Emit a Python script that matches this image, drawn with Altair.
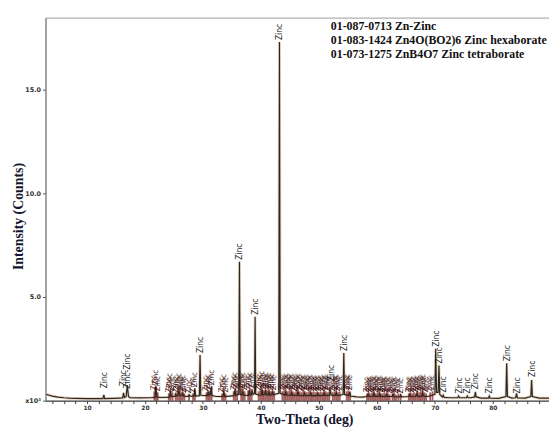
import altair as alt
import pandas as pd

# ---- measured XRD pattern (2-theta in deg, intensity in 10^3 counts) ----
two_theta = [3.0, 3.5, 4.0, 5.0, 6.0, 7.0, 8.0, 10.0, 12.0,
             12.75, 12.9, 13.05, 14.5, 15.5,
             16.15, 16.3, 16.45, 16.75, 16.95, 17.15, 17.4,
             19.0, 21.0, 21.75, 21.9, 22.05, 23.0,
             24.25, 24.4, 24.55, 25.15, 25.3, 25.45, 25.7, 25.85, 26.0, 26.35, 26.5, 26.65, 27.45, 27.6, 27.75,
             28.45, 28.6, 28.75, 29.38, 29.5, 29.62,
             30.75, 30.9, 31.05, 31.25, 31.4, 31.55, 32.3,
             33.45, 33.6, 33.75, 34.6, 35.35, 35.5, 35.65,
             36.18, 36.3, 36.42, 36.7, 36.85, 37.0,
             37.85, 38.0, 38.15, 38.35, 38.5, 38.65, 38.9, 39.0, 39.1,
             39.8, 40.05, 40.2, 40.35, 40.65, 40.8, 40.95, 41.25, 41.4, 41.55, 41.85, 42.0, 42.15,
             43.08, 43.2, 43.32,
             44.15, 44.3, 44.45, 45.15, 45.3, 45.45, 46.25, 46.4, 46.55, 47.35, 47.5, 47.65,
             48.45, 48.6, 48.75, 49.65, 49.8, 49.95, 50.75, 50.9, 51.05, 51.85, 52.0, 52.15,
             52.85, 53.0, 53.15, 53.7,
             54.18, 54.3, 54.42, 55.15, 55.3, 55.45, 56.5, 57.5,
             58.35, 58.5, 58.65, 59.35, 59.5, 59.65, 60.35, 60.5, 60.65, 61.55, 61.7, 61.85,
             62.65, 62.8, 62.95, 63.95, 64.1, 64.25, 65.55, 65.7, 65.85, 66.75, 66.9, 67.05,
             67.75, 67.9, 68.05, 68.8,
             70.02, 70.15, 70.3, 70.58, 70.72, 70.86, 71.3, 71.45, 71.6, 72.5,
             73.95, 74.1, 74.25, 75.45, 75.6, 75.75, 76.2, 76.87, 77.0, 77.13, 78.0,
             79.25, 79.4, 79.55, 81.0,
             82.27, 82.4, 82.53, 83.3, 83.95, 84.1, 84.25, 85.6, 86.57, 86.7, 86.83, 88.0, 89.7]
counts = [0.30, 0.26, 0.22, 0.17, 0.14, 0.12, 0.11, 0.10, 0.10,
          0.10, 0.28, 0.10, 0.11, 0.12,
          0.13, 0.38, 0.15, 0.20, 0.75, 0.20, 0.14,
          0.13, 0.14, 0.16, 0.65, 0.17, 0.15,
          0.17, 0.45, 0.20, 0.20, 0.32, 0.22, 0.25, 0.48, 0.24, 0.26, 0.36, 0.22, 0.20, 0.28, 0.22,
          0.22, 0.52, 0.22, 0.24, 2.20, 0.26,
          0.24, 0.42, 0.26, 0.28, 0.62, 0.25, 0.20,
          0.20, 0.42, 0.20, 0.22, 0.24, 0.50, 0.26,
          0.30, 6.70, 0.30, 0.28, 0.42, 0.26,
          0.25, 0.50, 0.27, 0.30, 0.45, 0.30, 0.35, 4.05, 0.32,
          0.26, 0.28, 0.52, 0.27, 0.30, 0.50, 0.28, 0.27, 0.42, 0.27, 0.28, 0.45, 0.28,
          0.35, 17.30, 0.35,
          0.27, 0.40, 0.26, 0.26, 0.38, 0.25, 0.26, 0.42, 0.25, 0.24, 0.36, 0.24,
          0.25, 0.38, 0.24, 0.24, 0.34, 0.24, 0.25, 0.36, 0.25, 0.26, 0.50, 0.26,
          0.25, 0.38, 0.25, 0.26,
          0.30, 2.30, 0.30, 0.25, 0.40, 0.22, 0.18, 0.17,
          0.20, 0.32, 0.20, 0.21, 0.36, 0.21, 0.21, 0.34, 0.20, 0.20, 0.30, 0.20,
          0.20, 0.30, 0.19, 0.18, 0.28, 0.18, 0.20, 0.30, 0.20, 0.21, 0.34, 0.21,
          0.22, 0.38, 0.22, 0.20,
          0.30, 2.50, 0.40, 0.40, 1.70, 0.30, 0.18, 0.26, 0.16, 0.14,
          0.14, 0.22, 0.14, 0.14, 0.22, 0.14, 0.14, 0.18, 0.42, 0.18, 0.12,
          0.12, 0.22, 0.12, 0.11,
          0.20, 1.80, 0.20, 0.12, 0.14, 0.35, 0.13, 0.12, 0.20, 1.00, 0.20, 0.12, 0.12]

# ---- Zn phase markers: label position (2-theta), label foot (10^3 counts), text ----
zn_label_theta = [12.9, 16.3, 16.95, 29.5, 36.3, 39.0, 43.2, 52.1, 54.3, 70.15, 70.72,
                  71.45, 74.1, 75.6, 77.0, 79.4, 82.4, 84.1, 86.7]
zn_label_base = [0.50, 0.60, 0.48, 2.20, 6.70, 4.05, 17.30, 0.85, 2.30, 2.50, 1.70,
                 0.30, 0.25, 0.25, 0.45, 0.25, 1.80, 0.25, 1.05]
zn_label_text = ["Zinc", "Zinc", "Zinc-Zinc", "Zinc", "Zinc", "Zinc", "Zinc", "Zinc", "Zinc",
                 "Zinc", "Zinc", "Zinc", "Zinc", "Zinc", "Zinc", "Zinc", "Zinc", "Zinc", "Zinc"]

# ---- borate phase markers (dense red cluster) ----
borate_theta = [21.6, 21.9, 22.2, 24.1, 24.4, 24.75, 25.3, 25.6, 25.9, 26.2, 26.5, 26.8, 27.6,
                28.3, 28.6, 30.6, 30.9, 31.2, 31.5, 33.3, 33.6, 33.9,
                35.3, 35.6, 35.9, 36.6, 36.9, 37.2, 37.8, 38.1, 38.4,
                39.6, 39.9, 40.2, 40.5, 40.8, 41.1, 41.4, 41.7, 42.0, 42.3,
                43.7, 44.0, 44.3, 44.6, 44.9, 45.2, 45.5, 45.8, 46.1, 46.4, 46.7, 47.0, 47.3,
                47.6, 47.9, 48.2, 48.5, 48.8, 49.1, 49.4, 49.7, 50.0, 50.3, 50.6, 50.9, 51.2,
                51.5, 51.8, 52.4, 52.7, 53.0, 53.3, 53.6,
                54.8, 55.1, 55.4,
                58.3, 58.6, 58.9, 59.2, 59.5, 59.8, 60.1, 60.4, 60.7, 61.0, 61.3, 61.6, 61.9, 62.2,
                62.7, 63.0, 63.3, 63.7, 64.1,
                65.5, 65.8, 66.1, 66.4, 66.7, 67.0, 67.3, 67.6, 67.9, 68.2, 68.5, 69.2, 69.6]
borate_base = [0.45, 0.70, 0.40, 0.35, 0.55, 0.40, 0.35, 0.45, 0.55, 0.40, 0.45, 0.35, 0.30,
               0.35, 0.60, 0.40, 0.50, 0.45, 0.70, 0.35, 0.50, 0.35,
               0.45, 0.60, 0.50, 0.55, 0.60, 0.45, 0.50, 0.60, 0.55,
               0.45, 0.55, 0.65, 0.50, 0.60, 0.50, 0.55, 0.45, 0.55, 0.45,
               0.45, 0.50, 0.55, 0.45, 0.50, 0.55, 0.45, 0.40, 0.50, 0.55, 0.45, 0.40, 0.50,
               0.45, 0.40, 0.45, 0.50, 0.40, 0.45, 0.40, 0.45, 0.40, 0.45, 0.40, 0.50, 0.45,
               0.40, 0.45, 0.40, 0.45, 0.50, 0.40, 0.45,
               0.45, 0.50, 0.45,
               0.35, 0.40, 0.35, 0.40, 0.45, 0.35, 0.40, 0.45, 0.35, 0.35, 0.40, 0.35, 0.40, 0.30,
               0.35, 0.40, 0.30, 0.35, 0.30,
               0.35, 0.40, 0.35, 0.40, 0.35, 0.45, 0.40, 0.45, 0.50, 0.40, 0.35, 0.40, 0.45]

legend_lines = ["01-087-0713 Zn-Zinc",
                "01-083-1424 Zn4O(BO2)6 Zinc hexaborate",
                "01-073-1275 ZnB4O7 Zinc tetraborate"]

pattern = pd.DataFrame({"theta": two_theta, "counts": counts})
zn_labels = pd.DataFrame({"theta": zn_label_theta, "base": zn_label_base, "text": zn_label_text})
borate = pd.DataFrame({"theta": borate_theta, "base": borate_base, "text": ["Zinc"] * len(borate_theta)})

xs = alt.Scale(domain=[2.84, 89.7], nice=False, zero=False)
ys = alt.Scale(domain=[0, 18.48], nice=False, zero=True)

x_axis = alt.Axis(
    values=list(range(4, 90, 2)),
    labelExpr="datum.value % 10 == 0 ? datum.label : ''",
    title="Two-Theta (deg)", titleFont="Liberation Serif", titleFontWeight="bold",
    titleFontSize=14, titleColor="#15152e", titleX=262, titleY=23.5, titleAlign="center",
    titleBaseline="alphabetic",
    labelFont="DejaVu Sans", labelFontSize=6, labelFontWeight="bold", labelColor="#333333",
    labelPadding=1, tickSize=3, tickColor="#444444", domainColor="#333333", grid=False,
)
y_axis = alt.Axis(
    values=[0, 5, 10, 15],
    labelExpr="datum.value == 0 ? 'x10³' : format(datum.value, '.1f')",
    title="Intensity (Counts)", titleFont="Liberation Serif", titleFontWeight="bold",
    titleFontSize=14, titleColor="#15152e", titleAngle=270, titleX=-27, titleY=201,
    titleAlign="center", titleBaseline="middle",
    labelFont="DejaVu Sans", labelFontSize=6.5, labelFontWeight="bold", labelColor="#333333",
    labelPadding=2, tickSize=3, tickColor="#555555", domainColor="#777777", grid=False,
)

X_T = alt.X("theta:Q", scale=xs, axis=x_axis)

line = alt.Chart(pattern).mark_line(color="#2a2622", strokeWidth=1.2).encode(
    x=X_T, y=alt.Y("counts:Q", scale=ys, axis=y_axis),
)

sticks = alt.Chart(borate).mark_rule(color="#7a1c1c", strokeWidth=1.8, opacity=0.7).encode(
    x=X_T, y=alt.Y("base:Q", scale=ys, axis=y_axis), y2=alt.datum(0),
)

halo = alt.Chart(pattern).mark_line(color="#c8925a", strokeWidth=3, opacity=0.35).encode(
    x=X_T, y=alt.Y("counts:Q", scale=ys, axis=y_axis),
)

borate_text = alt.Chart(borate).mark_text(
    angle=270, align="left", baseline="middle", dx=1, fontSize=8,
    font="DejaVu Sans Condensed, DejaVu Sans", color="#3a0a0a", opacity=0.9,
).encode(
    x=X_T, y=alt.Y("base:Q", scale=ys, axis=y_axis), text="text:N",
)

zn_text = alt.Chart(zn_labels).mark_text(
    angle=270, align="left", baseline="middle", dx=2, fontSize=8.5,
    font="DejaVu Sans Condensed, DejaVu Sans", color="#1e2a2a",
).encode(
    x=X_T, y=alt.Y("base:Q", scale=ys, axis=y_axis), text="text:N",
)

legend_layers = []
for i, txt in enumerate(legend_lines):
    legend_layers.append(
        alt.Chart(pd.DataFrame({"t": [txt]})).mark_text(
            align="left", baseline="alphabetic", font="Liberation Serif",
            fontWeight="bold", fontSize=12, color="#111111",
        ).encode(text="t:N", x=alt.value(289), y=alt.value(13 + 14 * i))
    )

chart = alt.layer(halo, sticks, line, borate_text, zn_text, *legend_layers).properties(
    width=510, height=388,
    autosize=alt.AutoSizeParams(type="none"),
    padding={"left": 38, "top": 7, "right": 0, "bottom": 25},
    background="white",
).configure_view(stroke="#9a9a9a", strokeWidth=1)

chart.save("out.html", embed_options={"renderer": "svg", "actions": False})
